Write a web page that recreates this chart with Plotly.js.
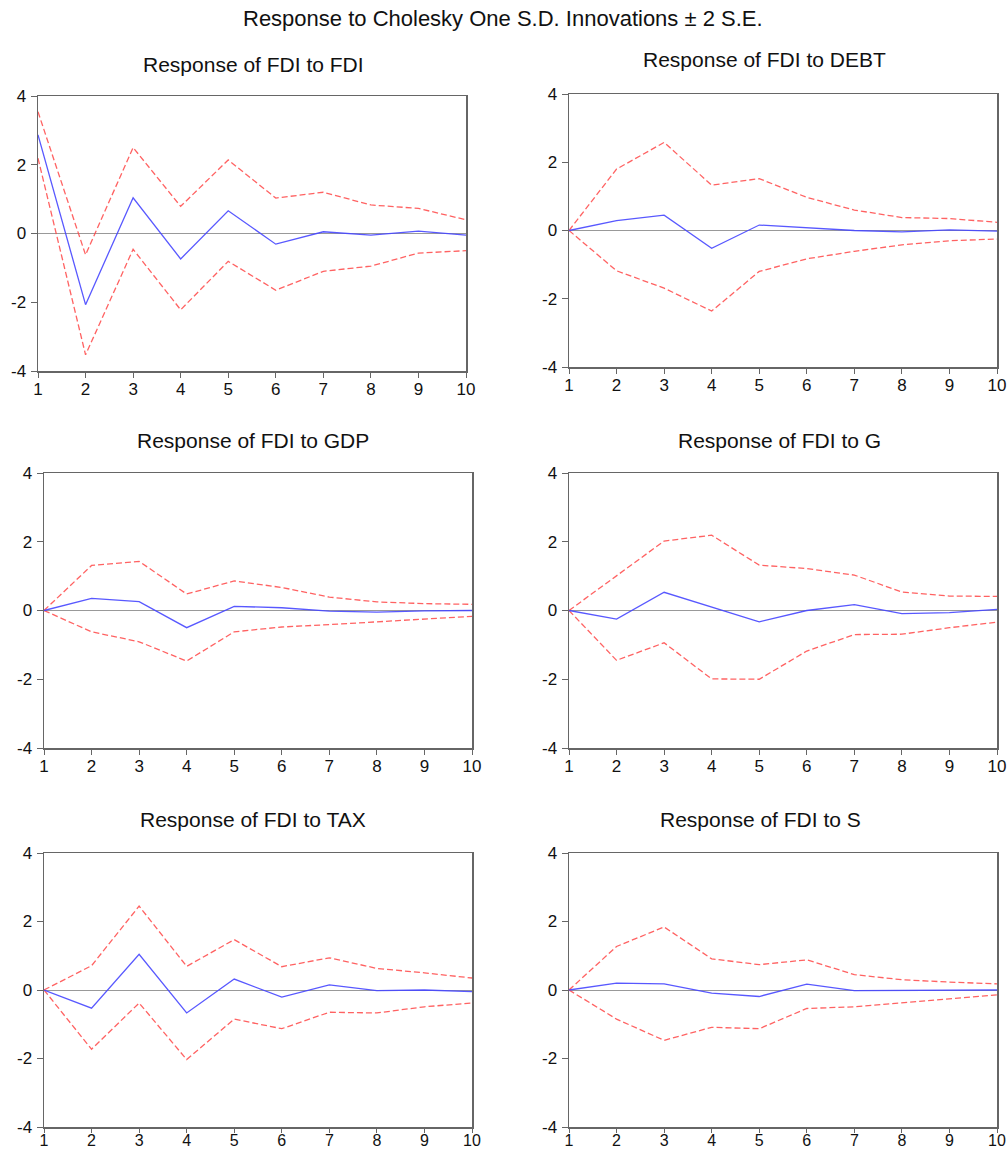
<!DOCTYPE html>
<html>
<head>
<meta charset="utf-8">
<script src="https://cdn.plot.ly/plotly-3.0.1.min.js"></script>
<style>html,body{margin:0;padding:0;background:#fff;}#chart{width:1007px;height:1153px;}</style>
</head>
<body>
<div id="chart"></div>
<script>
// Periods
var periods = [1,2,3,4,5,6,7,8,9,10];

// Panel titles
var panelTitles = ["Response of FDI to FDI","Response of FDI to DEBT","Response of FDI to GDP","Response of FDI to G","Response of FDI to TAX","Response of FDI to S"];
var mainTitle = "Response to Cholesky One S.D. Innovations \u00b1 2 S.E.";

// FDI to FDI
var fdiResp  = [2.87,-2.07,1.04,-0.74,0.66,-0.31,0.05,-0.05,0.07,-0.05];
var fdiUpper = [3.54,-0.62,2.50,0.79,2.14,1.03,1.20,0.83,0.73,0.40];
var fdiLower = [2.19,-3.53,-0.46,-2.22,-0.81,-1.65,-1.10,-0.95,-0.57,-0.50];
// FDI to DEBT
var debtResp  = [0,0.29,0.45,-0.52,0.16,0.07,0.00,-0.04,0.02,-0.02];
var debtUpper = [0,1.80,2.58,1.33,1.52,0.97,0.60,0.38,0.35,0.24];
var debtLower = [0,-1.18,-1.69,-2.36,-1.20,-0.83,-0.61,-0.42,-0.30,-0.25];
// FDI to GDP
var gdpResp  = [0,0.35,0.26,-0.50,0.12,0.08,-0.02,-0.05,-0.01,0.00];
var gdpUpper = [0,1.31,1.43,0.48,0.86,0.67,0.39,0.25,0.20,0.18];
var gdpLower = [0,-0.62,-0.91,-1.47,-0.62,-0.48,-0.41,-0.33,-0.23,-0.17];
// FDI to G
var gResp  = [0,-0.25,0.53,0.11,-0.33,0.00,0.17,-0.09,-0.06,0.03];
var gUpper = [0,1.00,2.02,2.19,1.32,1.22,1.03,0.54,0.42,0.41];
var gLower = [0,-1.45,-0.94,-1.99,-2.00,-1.18,-0.70,-0.69,-0.50,-0.34];
// FDI to TAX
var taxResp  = [0,-0.53,1.04,-0.67,0.32,-0.21,0.15,-0.02,0.00,-0.05];
var taxUpper = [0,0.71,2.45,0.69,1.47,0.68,0.94,0.63,0.50,0.35];
var taxLower = [0,-1.73,-0.38,-2.03,-0.85,-1.13,-0.65,-0.67,-0.49,-0.38];
// FDI to S
var sResp  = [0,0.20,0.18,-0.09,-0.19,0.17,-0.02,-0.02,-0.01,0.00];
var sUpper = [0,1.27,1.84,0.91,0.74,0.88,0.45,0.30,0.23,0.18];
var sLower = [0,-0.85,-1.47,-1.09,-1.13,-0.54,-0.49,-0.37,-0.24,-0.14];

var yTicks = [-4,-2,0,2,4];

var panels = [
  {resp: fdiResp, up: fdiUpper, lo: fdiLower},
  {resp: debtResp, up: debtUpper, lo: debtLower},
  {resp: gdpResp, up: gdpUpper, lo: gdpLower},
  {resp: gResp, up: gUpper, lo: gLower},
  {resp: taxResp, up: taxUpper, lo: taxLower},
  {resp: sResp, up: sUpper, lo: sLower}
];

// pixel boxes [x0,x1,y0,y1] (top-based) for each panel plot area
var W = 1007, H = 1153;
var boxes = [
  [38,466,96,371],
  [569,997,94,367],
  [44,472,473,748],
  [569,997,473,748],
  [44,472,853,1127],
  [569,997,853,1127]
];
var titlePos = [[253,65],[764,60],[253,440],[779,440],[253,820],[760,820]];

var FONT = "Liberation Sans, Arial, sans-serif";
var traces = [];
var layout = {
  width: W, height: H,
  margin: {l:0,r:0,t:0,b:0},
  paper_bgcolor: "#fff", plot_bgcolor: "#fff",
  showlegend: false,
  font: {family: FONT, color: "#111", size: 15},
  annotations: [],
  shapes: []
};

layout.annotations.push({
  text: mainTitle, xref: "paper", yref: "paper",
  x: 503/W, y: 1 - 19/H, xanchor: "center", yanchor: "middle",
  showarrow: false, font: {family: FONT, size: 22, color: "#111"}
});

panels.forEach(function(p, i) {
  var n = i + 1;
  var xa = n === 1 ? "x" : "x" + n;
  var ya = n === 1 ? "y" : "y" + n;
  var b = boxes[i];
  var bottomRow = i >= 4;
  layout[(n === 1 ? "xaxis" : "xaxis" + n)] = {
    domain: [b[0]/W, b[1]/W],
    anchor: ya,
    range: [1, 10],
    tickmode: "array", tickvals: periods, ticktext: periods.map(String),
    ticks: "outside", ticklen: bottomRow ? 4 : 5, tickcolor: "#666", tickwidth: 1,
    showline: true, linecolor: "#666", linewidth: 1.5, mirror: true,
    showgrid: false, zeroline: false,
    tickfont: {family: FONT, size: bottomRow ? 16 : 17, color: "#111"},
    ticklabelstandoff: bottomRow ? -6 : -3,
    fixedrange: true
  };
  layout[(n === 1 ? "yaxis" : "yaxis" + n)] = {
    domain: [1 - b[3]/H, 1 - b[2]/H],
    anchor: xa,
    range: [-4, 4],
    tickmode: "array", tickvals: yTicks, ticktext: yTicks.map(String),
    ticks: "outside", ticklen: 6, tickcolor: "#666", tickwidth: 1,
    showline: true, linecolor: "#666", linewidth: 1.5, mirror: true,
    showgrid: false, zeroline: true, zerolinecolor: "#999", zerolinewidth: 1,
    tickfont: {family: FONT, size: 17, color: "#111"},
    ticklabelstandoff: 1,
    fixedrange: true
  };
  traces.push({x: periods, y: p.up, xaxis: xa, yaxis: ya, mode: "lines", type: "scatter",
    line: {color: "rgba(255,70,70,0.85)", width: 1.3, dash: "6px,3px"}, hoverinfo: "skip"});
  traces.push({x: periods, y: p.lo, xaxis: xa, yaxis: ya, mode: "lines", type: "scatter",
    line: {color: "rgba(255,70,70,0.85)", width: 1.3, dash: "6px,3px"}, hoverinfo: "skip"});
  traces.push({x: periods, y: p.resp, xaxis: xa, yaxis: ya, mode: "lines", type: "scatter",
    line: {color: "rgba(70,70,255,0.9)", width: 1.3}, hoverinfo: "skip"});
  layout.annotations.push({
    text: panelTitles[i], xref: "paper", yref: "paper",
    x: titlePos[i][0]/W, y: 1 - titlePos[i][1]/H, xanchor: "center", yanchor: "middle",
    showarrow: false, font: {family: FONT, size: 21, color: "#111"}
  });
});

Plotly.newPlot("chart", traces, layout, {displayModeBar: false, staticPlot: true});
</script>
</body>
</html>
